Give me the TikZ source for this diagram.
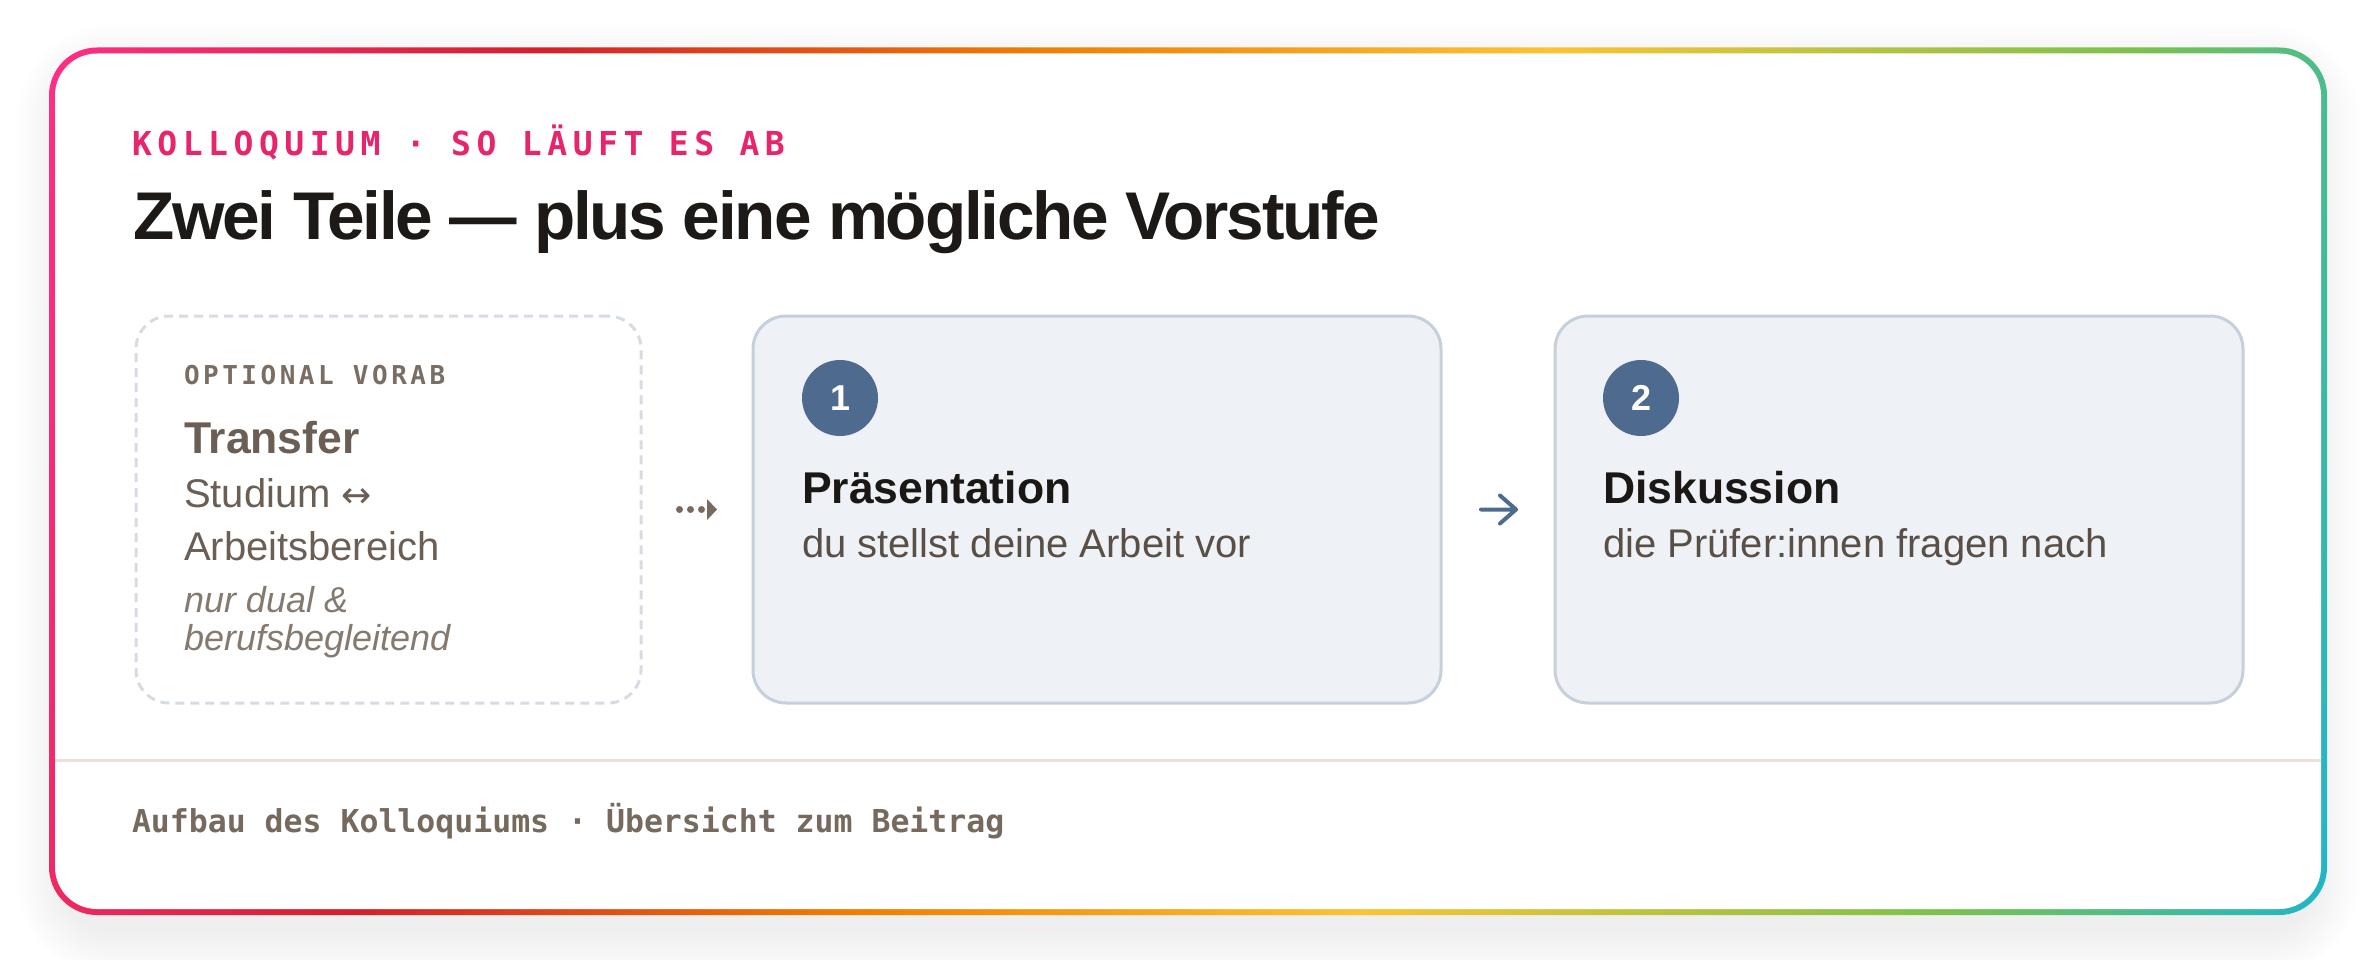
\documentclass[tikz,border=0pt]{standalone}
\usepackage{fontspec}
\setmainfont{Liberation Sans}
\newfontfamily\fmMono{DejaVu Sans Mono}
\newfontfamily\fmKicker[LetterSpace=16.8]{DejaVu Sans Mono}
\newfontfamily\fmKick[LetterSpace=13.5]{DejaVu Sans Mono}
\newfontfamily\fmTitle[LetterSpace=-3.2]{Liberation Sans}
\newfontfamily\fmSym{DejaVu Sans}
\usetikzlibrary{calc,arrows.meta}
\newcommand\fsz[1]{\fontsize{#1}{#1}\selectfont}

\definecolor{gPink}{HTML}{FF2E86}
\definecolor{gRed}{HTML}{D4202A}
\definecolor{gOrange}{HTML}{F07D00}
\definecolor{gYellow}{HTML}{FCC332}
\definecolor{gGreen}{HTML}{7CC24C}
\definecolor{gTeal}{HTML}{1FB6C9}
\definecolor{kickerPink}{HTML}{E8246C}
\definecolor{titleInk}{HTML}{1C1916}
\definecolor{headInk}{HTML}{1A1714}
\definecolor{bodyInk}{HTML}{5A4F46}
\definecolor{optHead}{HTML}{6B5F55}
\definecolor{optLabel}{HTML}{7A6E64}
\definecolor{optNote}{HTML}{857A70}
\definecolor{cardFill}{HTML}{EEF2F6}
\definecolor{cardBorder}{HTML}{C5D0DC}
\definecolor{optBorder}{HTML}{D5DCE4}
\definecolor{numBlue}{HTML}{4F6A8F}
\definecolor{dotCol}{HTML}{776B60}
\definecolor{divCol}{HTML}{ECE2D8}
\definecolor{footInk}{HTML}{766A5F}

\pgfdeclarehorizontalshading{rainbowborder}{100bp}{color(0bp)=(gPink); color(20.22bp)=(gPink); color(32.13bp)=(gRed); color(44.04bp)=(gOrange); color(56.5bp)=(gYellow); color(70.5bp)=(gGreen); color(79.78bp)=(gTeal); color(100bp)=(gTeal)}

\tikzset{
  txt/.style={anchor=base west, inner sep=0pt, outer sep=0pt},
  stepcard/.style={draw=cardBorder, line width=3pt, fill=cardFill, rounded corners=33pt,
    minimum width=688pt, minimum height=387pt, inner sep=0pt, anchor=north west},
  optcard/.style={draw=optBorder, line width=3pt, dash pattern=on 9pt off 6pt, rounded corners=33pt,
    minimum width=505pt, minimum height=387pt, inner sep=0pt, anchor=north west},
  numdot/.style={circle, fill=numBlue, minimum size=76pt, inner sep=0pt, text=white, font=\bfseries\fsz{36}},
  dotflow/.style={draw=dotCol, line width=7pt, line cap=round, dash pattern=on 0pt off 11pt,
    -{Triangle[length=10pt,width=21pt,line width=0pt]}},
  flowarrow/.style={draw=numBlue, line width=4pt, line cap=round, line join=round},
  divider/.style={draw=divCol, line width=3pt},
  heading/.style={txt, text=headInk, font=\bfseries\fsz{44.5}},
  bodytxt/.style={txt, text=bodyInk, font=\fsz{40}},
}

\begin{document}
\begin{tikzpicture}[x=1pt,y=-1pt]
  % canvas
  \fill[white] (0,0) rectangle (2376,960);
  \useasboundingbox (0,0) rectangle (2376,960);

  % soft shadow
  \foreach \i in {1,...,16}{
    \pgfmathsetmacro\rr{48+3*\i}
    \fill[black, opacity=0.0038, rounded corners=\rr pt]
      ($(64,72)+(-3*\i,-3*\i)$) rectangle ($(2312,930)+(3*\i,3*\i)$);
  }

  % gradient frame
  \shade[shading=rainbowborder, shading angle=-12.4, rounded corners=48pt] (49,47.5) rectangle (2327,915);
  \fill[white, rounded corners=42pt] (55,53.5) rectangle (2321,909);

  % header
  \node[txt, text=kickerPink, font=\fmKicker\bfseries\fsz{33}] (kicker) at (132,156) {KOLLOQUIUM · SO LÄUFT ES AB};
  \node[txt, text=titleInk, font=\fmTitle\bfseries\fsz{67.5}] (title) at (133,240) {Zwei Teile — plus eine mögliche Vorstufe};

  % cards
  \node[optcard] (opt) at (134.5,314.5) {};
  \node[stepcard] (c1) at (751.5,314.5) {};
  \node[stepcard] (c2) at (1553.5,314.5) {};

  % optional card text
  \node[txt, text=optLabel, font=\fmKick\bfseries\fsz{26}] (optlabel) at (184,384) {OPTIONAL VORAB};
  \node[txt, text=optHead, font=\bfseries\fsz{44.5}] (opthead) at (184,453) {Transfer};
  \node[txt, text=optHead, font=\fsz{40}] (optl1) at (184,507) {Studium {\fmSym\fsz{36}↔}};
  \node[txt, text=optHead, font=\fsz{40}] (optl2) at (184,560) {Arbeitsbereich};
  \node[txt, text=optNote, font=\itshape\fsz{36}] (optn1) at (184,612) {nur dual \&};
  \node[txt, text=optNote, font=\itshape\fsz{36}] (optn2) at (184,650) {berufsbegleitend};

  % step 1
  \node[numdot] (n1) at (840,398) {1};
  \node[heading] (h1) at (802,503) {Präsentation};
  \node[bodytxt] (b1t) at (802,557) {du stellst deine Arbeit vor};

  % step 2
  \node[numdot] (n2) at (1641,398) {2};
  \node[heading] (h2) at (1603,503) {Diskussion};
  \node[bodytxt] (b2t) at (1603,557) {die Prüfer:innen fragen nach};

  % connectors
  \coordinate (d1) at ($(opt.east)+(37,0)$);
  \coordinate (d2) at ($(c1.west)+(-34.5,0)$);
  \draw[dotflow] (d1) -- (d2);

  \coordinate (a1) at ($(c1.east)+(38.5,0)$);
  \coordinate (a2) at ($(c2.west)+(-37.5,0)$);
  \draw[flowarrow] (a1) -- (a2) ++(-16,-14) -- (a2) -- ++(-16,14);

  % footer
  \draw[divider] (55,760.3) -- (2321,760.3);
  \node[txt, text=footInk, font=\fmMono\bfseries\fsz{31.5}] (footer) at (132,832) {Aufbau des Kolloquiums · Übersicht zum Beitrag};
\end{tikzpicture}
\end{document}
